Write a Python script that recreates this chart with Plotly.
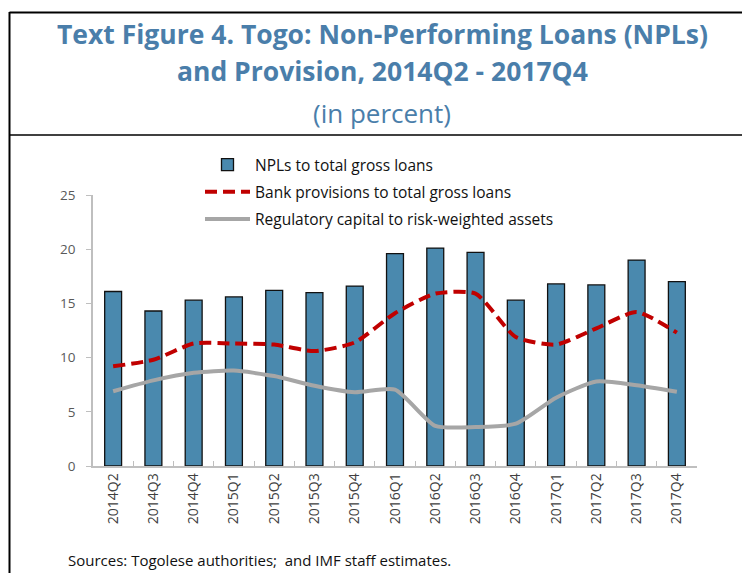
import plotly.graph_objects as go

quarters = ["2014Q2", "2014Q3", "2014Q4", "2015Q1", "2015Q2", "2015Q3", "2015Q4",
            "2016Q1", "2016Q2", "2016Q3", "2016Q4", "2017Q1", "2017Q2", "2017Q3", "2017Q4"]
npl_ratio = [16.1, 14.3, 15.3, 15.6, 16.2, 16.0, 16.6, 19.6, 20.1, 19.7, 15.3, 16.8, 16.7, 19.0, 17.0]
provisions = [9.2, 9.8, 11.3, 11.3, 11.2, 10.6, 11.4, 14.1, 15.9, 15.9, 11.9, 11.2, 12.7, 14.2, 12.3]
reg_capital = [6.9, 7.9, 8.6, 8.8, 8.3, 7.4, 6.8, 7.05, 3.7, 3.6, 3.9, 6.3, 7.8, 7.45, 6.85]

FONT = "Open Sans"
TITLE_BLUE = "#4A7EAA"

# plot area pixel geometry helpers (paper coords)
L, R, T, B = 93, 697, 195, 466
W, H = 742, 573
def px(x):
    return (x - L) / (R - L)
def py(y):
    return (B - y) / (B - T)

fig = go.Figure()
fig.add_trace(go.Bar(
    x=quarters, y=npl_ratio, name="NPLs to total gross loans",
    marker=dict(color="#4A89AE", line=dict(color="#111111", width=1.3)),
    width=0.42, legendgroup="a",
))
fig.add_trace(go.Scatter(
    x=quarters, y=provisions, name="Bank provisions to total gross loans",
    mode="lines", line=dict(color="#C00000", width=4, dash="12px,6px", shape="spline", smoothing=0.6),
    legendgroup="b",
))
fig.add_trace(go.Scatter(
    x=quarters, y=reg_capital, name="Regulatory capital to risk-weighted assets",
    mode="lines", line=dict(color="#A6A6A6", width=4, shape="spline", smoothing=0.6),
    legendgroup="c",
))

shapes = [
    dict(type="line", xref="paper", yref="paper", x0=px(9.5), x1=px(742), y0=py(12.5), y1=py(12.5),
         line=dict(color="black", width=2)),
    dict(type="line", xref="paper", yref="paper", x0=px(9.5), x1=px(9.5), y0=py(12), y1=py(573),
         line=dict(color="black", width=2)),
    dict(type="line", xref="paper", yref="paper", x0=px(9.5), x1=px(742), y0=py(135), y1=py(135),
         line=dict(color="black", width=1.5)),
]

annotations = [
    dict(text="<b>Text Figure 4. Togo: Non-Performing Loans (NPLs)</b>", x=px(382), y=py(34.5),
         xref="paper", yref="paper", showarrow=False, xanchor="center", yanchor="middle",
         font=dict(family=FONT, size=26.5, color=TITLE_BLUE)),
    dict(text="<b>and Provision, 2014Q2 - 2017Q4</b>", x=px(382), y=py(71),
         xref="paper", yref="paper", showarrow=False, xanchor="center", yanchor="middle",
         font=dict(family=FONT, size=26.5, color=TITLE_BLUE)),
    dict(text="(in percent)", x=px(382), y=py(113),
         xref="paper", yref="paper", showarrow=False, xanchor="center", yanchor="middle",
         font=dict(family=FONT, size=26, color=TITLE_BLUE)),
    dict(text="Sources: Togolese authorities;  and IMF staff estimates.", x=px(66), y=py(560),
         xref="paper", yref="paper", showarrow=False, xanchor="left", yanchor="middle",
         font=dict(family=FONT, size=15, color="#111111")),
]

fig.update_layout(
    width=W, height=H, autosize=False,
    margin=dict(l=L, r=W - R, t=T, b=H - B, pad=0),
    paper_bgcolor="white", plot_bgcolor="white",
    font=dict(family=FONT, size=13, color="#595959"),
    bargap=0.58,
    showlegend=True,
    legend=dict(
        x=px(200), y=py(148), xanchor="left", yanchor="top",
        bgcolor="rgba(0,0,0,0)", borderwidth=0,
        font=dict(family=FONT, size=15.5, color="#111111"),
        traceorder="grouped", tracegroupgap=4, itemwidth=45,
    ),
    xaxis=dict(
        type="category", showline=True, linecolor="#BFBFBF", linewidth=1.5,
        ticks="inside", tickson="boundaries", ticklen=5, tickcolor="#BFBFBF", tickwidth=1,
        tickangle=-90, showgrid=False, zeroline=False,
        tickfont=dict(family=FONT, size=14, color="#404040"),
    ),
    yaxis=dict(
        range=[0, 25], tickvals=[0, 5, 10, 15, 20, 25], showline=True, linecolor="#BFBFBF",
        linewidth=1.5, ticks="outside", ticklen=5, tickcolor="#BFBFBF", showgrid=False,
        zeroline=False, ticklabelstandoff=8,
        tickfont=dict(family=FONT, size=13.5, color="#595959"),
    ),
    shapes=shapes, annotations=annotations,
)

fig.write_html("out.html")
